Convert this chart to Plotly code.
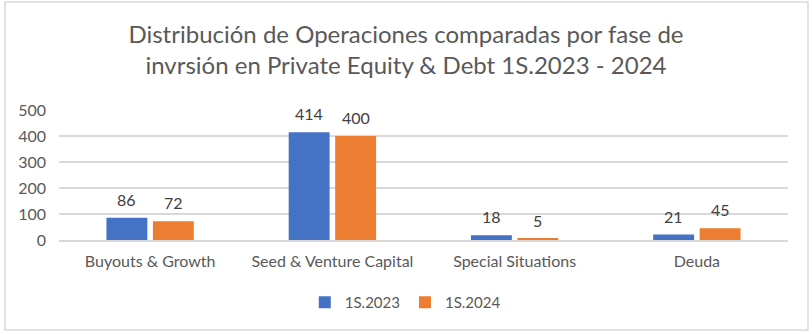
import plotly.graph_objects as go

categories = ["Buyouts & Growth", "Seed & Venture Capital", "Special Situations", "Deuda"]
values_2023 = [86, 414, 18, 21]
values_2024 = [72, 400, 5, 45]
series_names = ["1S.2023", "1S.2024"]
y_ticks = [0, 100, 200, 300, 400, 500]
title_text = "Distribución de Operaciones comparadas por fase de<br>invrsión en Private Equity & Debt 1S.2023 - 2024"

FONT = "Lato, Liberation Sans, sans-serif"
BARGAP = 0.49
CAT_PX = 729 / len(categories)
OFFSET_PX = CAT_PX * (1 - BARGAP) / 4

fig = go.Figure()
for i, (name, vals, color) in enumerate([(series_names[0], values_2023, "#4472C4"),
                                         (series_names[1], values_2024, "#ED7D31")]):
    fig.add_trace(go.Bar(
        x=categories, y=vals, name=name, marker=dict(color=color, line=dict(width=0)),
    ))
    shift = -OFFSET_PX if i == 0 else OFFSET_PX
    for c, v in zip(categories, vals):
        fig.add_annotation(x=c, y=v, text=str(v), showarrow=False, xshift=shift,
                           yanchor="bottom", yshift=7,
                           font=dict(size=16, color="#404040", family=FONT))

fig.update_layout(
    width=812, height=334,
    margin=dict(l=59, r=24, t=110, b=94),
    paper_bgcolor="white", plot_bgcolor="white",
    font=dict(family=FONT, color="#595959", size=16),
    title=dict(text=title_text, x=0.5, xanchor="center", xref="container",
               y=0.872, yanchor="top", yref="container",
               font=dict(size=24, color="#595959", family=FONT)),
    barmode="group", bargap=BARGAP, bargroupgap=0.12,
    legend=dict(orientation="h", x=0.475, xanchor="center", y=-0.48, yanchor="middle",
                font=dict(size=15, color="#595959", family=FONT), itemwidth=30,
                traceorder="normal"),
    showlegend=True,
)
fig.update_yaxes(range=[0, 500], tickvals=y_ticks, showgrid=True, gridcolor="#D9D9D9",
                 gridwidth=1.5, zeroline=False, showline=False,
                 tickfont=dict(size=16, color="#595959"), ticklabelstandoff=12)
fig.update_xaxes(showline=True, linecolor="#D9D9D9", linewidth=1.5, showgrid=False,
                 tickfont=dict(size=16, color="#595959"), ticklabelstandoff=6)

fig.add_shape(type="rect", xref="paper", yref="paper",
              x0=-54/729, x1=1 + 20/729, y0=-(330-240)/130, y1=(240-2)/130,
              line=dict(color="#D9D9D9", width=1.5), fillcolor="rgba(0,0,0,0)", layer="below")

fig.write_html("out.html")
